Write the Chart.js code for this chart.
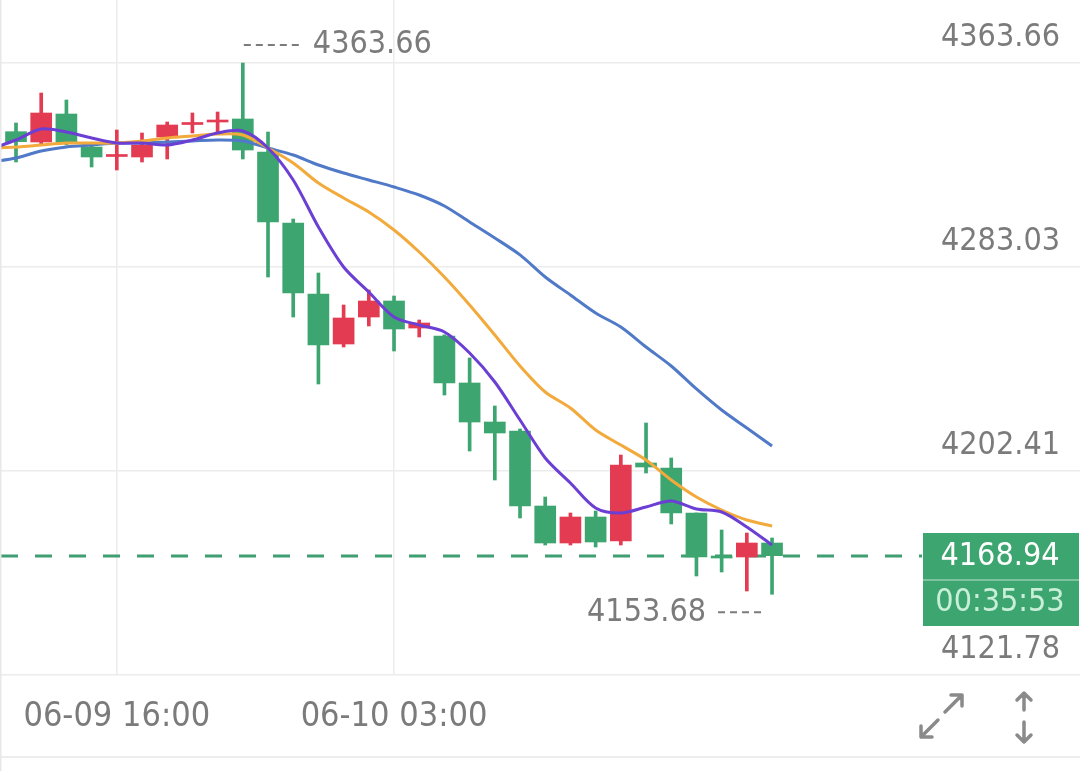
<!DOCTYPE html>
<html>
<head>
<meta charset="utf-8">
<script src="https://cdn.jsdelivr.net/npm/chart.js@4.4.0/dist/chart.umd.min.js"></script>
<style>
  html, body { margin: 0; padding: 0; background: #fff; }
  #wrap { width: 1080px; height: 771px; position: relative; }
</style>
</head>
<body>
<div id="wrap"><canvas id="kline" width="1080" height="771"></canvas></div>
<script>
// hourly candles, 06-09 12:00 .. 06-10 18:00
const times = ['06-09 12:00', '06-09 13:00', '06-09 14:00', '06-09 15:00', '06-09 16:00', '06-09 17:00',
  '06-09 18:00', '06-09 19:00', '06-09 20:00', '06-09 21:00', '06-09 22:00', '06-09 23:00',
  '06-10 00:00', '06-10 01:00', '06-10 02:00', '06-10 03:00', '06-10 04:00', '06-10 05:00',
  '06-10 06:00', '06-10 07:00', '06-10 08:00', '06-10 09:00', '06-10 10:00', '06-10 11:00',
  '06-10 12:00', '06-10 13:00', '06-10 14:00', '06-10 15:00', '06-10 16:00', '06-10 17:00', '06-10 18:00'];

const opens = [4336.51, 4332.44, 4343.50, 4330.46, 4326.71, 4326.51, 4334.41, 4339.35, 4340.34, 4341.53,
  4328.49, 4300.42, 4272.36, 4252.60, 4263.27, 4269.60, 4258.92, 4255.76, 4237.19, 4221.77,
  4218.22, 4188.57, 4173.95, 4184.23, 4174.74, 4205.57, 4203.59, 4185.81, 4168.81, 4168.42, 4173.95];
const closes = [4332.56, 4343.90, 4332.04, 4326.51, 4327.10, 4331.25, 4339.16, 4339.95, 4341.13, 4329.27,
  4300.82, 4272.76, 4252.21, 4262.88, 4269.60, 4258.53, 4260.90, 4237.19, 4221.77, 4217.43,
  4188.57, 4173.95, 4184.23, 4174.35, 4204.78, 4203.99, 4185.81, 4168.42, 4168.02, 4173.95, 4168.94];
const highs = [4339.95, 4351.80, 4349.04, 4332.04, 4337.18, 4336.00, 4340.34, 4343.90, 4344.29, 4363.66,
  4336.39, 4302.00, 4280.66, 4268.02, 4273.94, 4271.57, 4262.09, 4256.20, 4247.07, 4228.10,
  4219.01, 4192.13, 4185.81, 4186.60, 4208.73, 4221.38, 4207.55, 4185.81, 4179.09, 4177.90, 4175.93];
const lows = [4324.53, 4331.25, 4331.25, 4322.56, 4321.37, 4324.53, 4325.72, 4336.00, 4336.39, 4325.72,
  4279.08, 4263.27, 4236.79, 4251.42, 4259.72, 4249.83, 4255.37, 4232.44, 4210.31, 4198.85,
  4183.83, 4173.16, 4173.16, 4172.37, 4173.16, 4201.62, 4181.46, 4160.91, 4162.49, 4154.98, 4153.68];

// moving averages, first value belongs to the candle just left of the view
const maFast = [4329.67, 4333.23, 4337.58, 4336.39, 4334.02, 4332.04, 4332.04, 4331.25, 4333.23, 4335.99, 4336.79,
  4330.07, 4317.42, 4298.84, 4283.03, 4273.15, 4263.27, 4260.11, 4257.34, 4249.04, 4237.58,
  4222.56, 4207.55, 4197.66, 4187.78, 4185.81, 4188.18, 4190.55, 4187.39, 4186.20, 4180.27, 4173.16];
const maMid = [4330.07, 4330.46, 4331.25, 4332.04, 4332.04, 4332.04, 4332.83, 4334.02, 4334.81, 4335.60, 4335.20,
  4330.07, 4324.14, 4316.23, 4310.31, 4304.77, 4297.66, 4288.96, 4279.08, 4268.02, 4256.16,
  4243.91, 4233.63, 4227.31, 4218.61, 4212.68, 4206.75, 4198.85, 4192.13, 4186.99, 4183.04, 4180.67];
const maSlow = [4324.53, 4326.11, 4328.88, 4330.46, 4331.25, 4332.04, 4332.04, 4332.44, 4332.83, 4333.23, 4332.83,
  4330.07, 4327.30, 4323.35, 4320.19, 4317.42, 4314.65, 4311.49, 4307.14, 4300.82, 4294.50,
  4287.81, 4279.08, 4271.97, 4264.85, 4259.32, 4251.42, 4243.91, 4234.82, 4226.51, 4219.40, 4212.29];

const yTicks = [4121.78, 4202.41, 4283.03, 4363.66];
const xTickIdx = [4, 15];
const lastPrice = 4168.94;
const countdown = '00:35:53';

const UP = '#e33b51';
const DOWN = '#3da56f';
const FONT = "'DejaVu Sans Condensed', 'DejaVu Sans', sans-serif";
const GREY = '#7b7b7b';

const candleColors = opens.map((o, i) => closes[i] >= o ? UP : DOWN);
const maPoints = arr => arr.map((v, i) => ({ x: i - 1, y: v }));

function maLine(arr, color) {
  return {
    type: 'line',
    data: maPoints(arr),
    borderColor: color,
    borderWidth: 3,
    pointRadius: 0,
    tension: 0.3,
    order: 0
  };
}

function noPad(s) {
  s.paddingLeft = 0;
  s.paddingRight = 0;
  s.paddingTop = 0;
  s.paddingBottom = 0;
}

// price line, high/low marks, price tag, bottom icons
const overlay = {
  id: 'overlay',
  beforeDatasetsDraw(chart) {
    const { ctx, chartArea, scales: { y } } = chart;
    const py = Math.round(y.getPixelForValue(lastPrice));
    ctx.save();
    ctx.strokeStyle = '#3f9e72';
    ctx.lineWidth = 3;
    ctx.setLineDash([17, 17]);
    ctx.beginPath();
    ctx.moveTo(chartArea.left + 1, py);
    ctx.lineTo(922, py);
    ctx.stroke();
    ctx.restore();
  },
  afterDatasetsDraw(chart) {
    const { ctx, scales: { x, y } } = chart;
    ctx.save();
    ctx.font = '32px ' + FONT;
    ctx.fillStyle = GREY;
    ctx.strokeStyle = GREY;
    ctx.lineWidth = 2;
    ctx.setLineDash([7, 5]);
    ctx.textBaseline = 'middle';

    const hiIdx = highs.indexOf(Math.max(...highs));
    const hx = x.getPixelForValue(hiIdx);
    const hy = y.getPixelForValue(highs[hiIdx]) - 18;
    ctx.beginPath();
    ctx.moveTo(hx + 1, hy);
    ctx.lineTo(hx + 60, hy);
    ctx.stroke();
    ctx.textAlign = 'left';
    ctx.fillText(highs[hiIdx].toFixed(2), hx + 70, hy);

    const loIdx = lows.indexOf(Math.min(...lows));
    const lx = x.getPixelForValue(loIdx);
    const ly = y.getPixelForValue(lows[loIdx]) + 18;
    ctx.beginPath();
    ctx.moveTo(lx - 54, ly);
    ctx.lineTo(lx - 6, ly);
    ctx.stroke();
    ctx.textAlign = 'right';
    ctx.fillText(lows[loIdx].toFixed(2), lx - 66, ly);

    // price tag
    const py = Math.round(y.getPixelForValue(lastPrice));
    ctx.setLineDash([]);
    ctx.fillStyle = '#3da56f';
    ctx.fillRect(923, py - 23, 156, 93);
    ctx.strokeStyle = 'rgba(255,255,255,0.45)';
    ctx.lineWidth = 1.5;
    ctx.beginPath();
    ctx.moveTo(923, py + 24);
    ctx.lineTo(1079, py + 24);
    ctx.stroke();
    ctx.textAlign = 'center';
    ctx.fillStyle = '#ffffff';
    ctx.font = '32px ' + FONT;
    ctx.fillText(lastPrice.toFixed(2), 1000, py + 1);
    ctx.fillStyle = '#c9efd8';
    ctx.fillText(countdown, 1000, py + 47);
    ctx.restore();
  },
  afterDraw(chart) {
    const { ctx } = chart;
    ctx.save();
    ctx.strokeStyle = '#e8e8e8';
    ctx.lineWidth = 1.5;
    ctx.beginPath();
    ctx.moveTo(0, 757);
    ctx.lineTo(1080, 757);
    ctx.moveTo(0.75, 0);
    ctx.lineTo(0.75, 771);
    ctx.stroke();

    ctx.strokeStyle = '#8a8a8a';
    ctx.lineWidth = 3.5;
    ctx.lineCap = 'round';
    ctx.lineJoin = 'round';
    ctx.beginPath();
    // expand arrows
    ctx.moveTo(945, 712); ctx.lineTo(962, 695);
    ctx.moveTo(951, 695); ctx.lineTo(962, 695); ctx.lineTo(962, 706);
    ctx.moveTo(938, 720); ctx.lineTo(921, 737);
    ctx.moveTo(921, 726); ctx.lineTo(921, 737); ctx.lineTo(932, 737);
    // up / down arrows
    ctx.moveTo(1024, 693); ctx.lineTo(1024, 710);
    ctx.moveTo(1017, 700); ctx.lineTo(1024, 693); ctx.lineTo(1031, 700);
    ctx.moveTo(1024, 722); ctx.lineTo(1024, 742);
    ctx.moveTo(1017, 735); ctx.lineTo(1024, 742); ctx.lineTo(1031, 735);
    ctx.stroke();
    ctx.restore();
  }
};

new Chart(document.getElementById('kline'), {
  type: 'bar',
  data: {
    datasets: [
      maLine(maFast, '#6b3fd4'),
      maLine(maMid, '#f2aa3c'),
      maLine(maSlow, '#5079c8'),
      {
        label: 'body',
        data: opens.map((o, i) => ({ x: i, y: [o, closes[i]] })),
        backgroundColor: candleColors,
        barThickness: 21,
        minBarLength: 2,
        grouped: false,
        order: 1
      },
      {
        label: 'wick',
        data: opens.map((o, i) => ({ x: i, y: [lows[i], highs[i]] })),
        backgroundColor: candleColors,
        barThickness: 3,
        grouped: false,
        order: 2
      }
    ]
  },
  options: {
    responsive: false,
    animation: false,
    events: [],
    layout: { padding: 0 },
    plugins: { legend: { display: false }, tooltip: { enabled: false } },
    scales: {
      x: {
        type: 'linear',
        min: -0.635,
        max: 42.22,
        offset: false,
        grid: { color: '#ececec', lineWidth: 1.5, drawTicks: false, offset: false },
        border: { display: false },
        afterBuildTicks: s => { s.ticks = xTickIdx.map(v => ({ value: v })); },
        afterFit: s => { s.height = 96; noPad(s); },
        ticks: {
          autoSkip: false,
          maxRotation: 0,
          padding: 22,
          color: GREY,
          font: { family: FONT, size: 34 },
          callback: v => times[v]
        }
      },
      y: {
        position: 'right',
        min: 4121.78,
        max: 4388.56,
        grid: { color: '#ececec', lineWidth: 1.5, drawTicks: false },
        border: { display: false },
        afterBuildTicks: s => { s.ticks = yTicks.map(v => ({ value: v })); },
        afterFit: s => { s.width = 0; noPad(s); },
        ticks: {
          mirror: true,
          padding: -20,
          labelOffset: -25,
          color: GREY,
          font: { family: FONT, size: 32 },
          callback: v => v.toFixed(2)
        }
      }
    }
  },
  plugins: [overlay]
});
</script>
</body>
</html>
